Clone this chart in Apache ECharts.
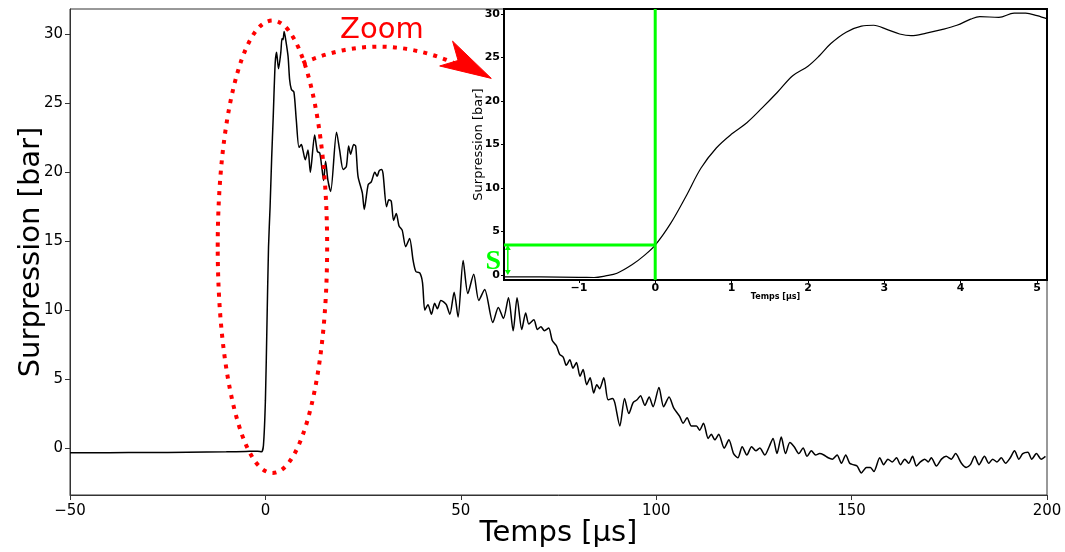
<!DOCTYPE html>
<html><head><meta charset="utf-8">
<script src="https://cdn.jsdelivr.net/npm/echarts@6/dist/echarts.min.js"></script>
<style>html,body{margin:0;padding:0;background:#fff}#c{width:1065px;height:552px}</style>
</head><body><div id="c"></div>
<script>
// ---- main signal (time in µs, pressure in bar)
const mainTime = [-50,-40,-30,-20,-10,-5,-2,-1,-0.5,0,0.4,0.8,1.2,1.6,2.0,2.5,2.86,3.35,3.95,4.25,4.5,4.8,5.2,5.8,6.2,6.65,7.3,7.9,8.6,9.2,9.6,10.2,10.9,11.5,12.6,13.3,13.9,14.5,14.9,15.4,16.0,16.7,18.2,19.0,19.9,20.7,21.3,21.8,22.6,23.1,23.7,24.8,25.3,26.3,27.1,28.0,28.6,29.1,29.7,30.1,31.0,31.6,32.2,32.8,33.5,34.2,35.0,35.9,36.9,37.8,38.5,39.5,40.2,40.8,41.6,42.5,43.3,44.0,44.9,45.6,46.3,47.2,48.3,49.3,50.6,51.8,53.3,54.6,56.1,58.2,59.6,60.9,62.2,63.4,64.4,65.6,66.6,67.4,68.7,69.6,70.5,71.4,72.5,73.4,74.5,75.3,76.2,77.0,77.9,78.7,79.6,80.5,81.3,82.2,83.1,84.0,84.8,85.5,86.6,87.7,88.8,89.4,90.7,91.9,93.0,94.1,95.1,96.0,97.1,98.2,99.2,100.7,101.9,103.3,104.5,106.0,106.9,107.9,109.0,110.3,111.1,112.1,113.3,114.1,115.0,116.0,117.4,118.6,119.8,120.9,122.0,123.2,124.4,125.5,126.5,127.8,128.9,129.9,130.9,132.0,133.1,134.2,135.3,136.5,137.6,138.6,139.7,140.8,141.8,142.9,144.0,145.1,146.3,147.4,148.5,149.5,150.4,151.4,152.5,153.8,154.8,155.7,157.2,158.2,159.3,160.4,161.5,162.5,163.6,164.6,165.6,166.6,167.6,168.7,169.6,170.4,171.7,173.0,174.2,175.5,176.6,178.1,179.3,180.4,181.5,182.6,184.0,185.1,186.1,187.2,188.3,189.4,190.6,191.7,192.8,193.8,195.1,196.1,197.3,198.5,199.6];
const mainPressure = [-0.34,-0.33,-0.32,-0.30,-0.27,-0.24,-0.22,-0.27,0.2,3.44,9.0,14.6,17.5,21.0,24.0,27.9,28.7,27.5,28.7,29.7,29.6,30.2,29.6,28.4,26.7,26.0,25.8,23.8,21.8,22.0,21.6,20.9,21.6,20.0,22.7,21.5,21.4,20.2,19.4,20.8,19.4,18.6,22.9,21.6,20.2,20.4,21.9,21.3,22.0,21.9,19.7,18.5,17.3,19.1,19.3,20.0,19.7,20.1,20.2,19.9,17.5,18.0,17.9,16.5,17.0,16.1,15.8,14.6,15.2,13.6,12.8,12.7,12.0,10.0,10.4,9.7,10.5,10.1,10.7,10.6,10.4,9.7,11.3,9.5,13.6,11.2,12.6,10.7,11.5,9.1,10.2,9.4,10.9,8.5,10.9,8.6,9.8,9.0,9.3,8.6,8.8,8.5,8.7,7.8,7.4,6.8,6.6,6.0,6.4,5.8,6.2,5.2,5.7,4.6,5.1,4.0,4.6,4.3,5.1,3.5,3.6,3.3,1.6,3.6,2.5,3.3,3.5,3.8,3.1,3.7,3.0,4.4,3.0,3.7,2.9,2.3,1.8,2.2,1.6,1.6,1.3,1.8,0.7,1.0,0.6,1.0,0.0,0.6,-0.4,-0.7,0.1,-0.5,0.1,-0.2,0.0,-0.5,0.1,0.7,-0.4,0.8,-0.4,0.4,0.1,-0.4,0.0,-0.6,-0.2,-0.5,-0.4,-0.5,-0.7,-0.8,-0.5,-1.1,-0.5,-1.1,-1.2,-1.3,-1.8,-1.4,-1.4,-1.7,-0.7,-1.2,-0.8,-1.0,-0.7,-1.2,-0.8,-1.1,-0.6,-1.3,-1.0,-0.8,-1.0,-0.7,-1.3,-0.8,-0.6,-0.8,-0.4,-1.1,-1.4,-1.2,-0.6,-1.2,-0.6,-1.1,-0.8,-1.0,-0.7,-1.1,-0.7,-0.2,-0.8,-0.4,-0.3,-0.8,-0.4,-0.8,-0.6];

// ---- zoomed signal (inset)
const zoomTime = [-1.98,-1.5,-1.0,-0.8,-0.65,-0.5,-0.3,-0.15,0,0.2,0.4,0.6,0.8,1.0,1.2,1.4,1.6,1.8,2.0,2.15,2.3,2.5,2.7,2.86,3.04,3.2,3.35,3.55,3.75,3.95,4.13,4.25,4.5,4.7,4.85,5.0,5.14];
const zoomPressure = [-0.2,-0.22,-0.27,-0.28,-0.1,0.2,1.2,2.2,3.44,5.9,9.0,12.3,14.6,16.2,17.5,19.2,21.0,22.9,24.0,25.2,26.6,27.9,28.6,28.7,28.2,27.7,27.5,27.8,28.2,28.7,29.4,29.7,29.6,30.1,30.1,29.8,29.4];

// ---- tick labels
const mainXTicks = [-50,0,50,100,150,200];
const mainYTicks = [0,5,10,15,20,25,30];
const zoomXTicks = [-1,0,1,2,3,4,5];
const zoomYTicks = [0,5,10,15,20,25,30];

// ---- annotations (data coordinates)
const ellipse = [1.8, 14.6, 14.0, 16.4];          // cx, cy, rx, ry (main axes)
const arcPts = [[9.5,27.9],[29.0,30.3],[48.4,27.9]]; // start, control, end
const arrowHead = [[57.8,26.8],[47.9,29.5],[49.3,28.1],[44.6,27.7]];
const zoomLabelPos = [29.8, 30.3];
const sLevel = 3.44;       // bar at t = 0
const sArrowX = -1.93;
const sLabelPos = [-2.12, 1.5];

const minus = v => String(v).replace('-', '\u2212');
const FONT = 'DejaVu Sans';

const chart = echarts.init(document.getElementById('c'), null, {renderer:'canvas'});
chart.setOption({
  backgroundColor:'#fff',
  animation:false,
  textStyle:{fontFamily:FONT},
  grid:[
    {left:70, top:9, width:977, height:486, show:true, borderColor:'#333', borderWidth:1, backgroundColor:'transparent', containLabel:false, outerBoundsMode:'none'},
    {left:504, top:9, width:543, height:271, show:true, borderColor:'#000', borderWidth:2, backgroundColor:'#fff', containLabel:false, outerBoundsMode:'none', z:5}
  ],
  xAxis:[
    {type:'value', gridIndex:0, min:-50, max:200, interval:50,
     axisLine:{show:true, onZero:false, lineStyle:{color:'#333', width:1}},
     axisTick:{show:true, length:5, lineStyle:{color:'#333'}, customValues:mainXTicks},
     axisLabel:{fontSize:15, color:'#000', margin:9, fontFamily:FONT, formatter:minus, customValues:mainXTicks},
     splitLine:{show:false},
     name:'Temps [µs]', nameLocation:'middle', nameGap:24, nameMoveOverlap:false,
     nameTextStyle:{fontSize:29, color:'#000', fontFamily:FONT}},
    {type:'value', gridIndex:1, min:-1.98, max:5.13, z:6,
     axisLine:{show:true, onZero:false, lineStyle:{color:'#000', width:2}},
     axisTick:{show:true, length:3, lineStyle:{color:'#000'}, customValues:zoomXTicks},
     axisLabel:{fontSize:11, fontWeight:'bold', color:'#000', margin:3, fontFamily:FONT, formatter:minus, customValues:zoomXTicks},
     splitLine:{show:false},
     name:'Temps [µs]', nameLocation:'middle', nameGap:13, nameMoveOverlap:false,
     nameTextStyle:{fontSize:8, fontWeight:'bold', color:'#000', fontFamily:FONT}}
  ],
  yAxis:[
    {type:'value', gridIndex:0, min:-3.4, max:31.83,
     axisLine:{show:true, onZero:false, lineStyle:{color:'#333', width:1}},
     axisTick:{show:true, length:5, lineStyle:{color:'#333'}, customValues:mainYTicks},
     axisLabel:{fontSize:15, color:'#000', margin:7, fontFamily:FONT, formatter:minus, customValues:mainYTicks},
     splitLine:{show:false},
     name:'Surpression [bar]', nameLocation:'middle', nameGap:24, nameMoveOverlap:false,
     nameTextStyle:{fontSize:29, color:'#000', fontFamily:FONT}},
    {type:'value', gridIndex:1, min:-0.57, max:30.57, z:6,
     axisLine:{show:true, onZero:false, lineStyle:{color:'#000', width:2}},
     axisTick:{show:true, length:3, lineStyle:{color:'#000'}, customValues:zoomYTicks},
     axisLabel:{fontSize:11, fontWeight:'bold', color:'#000', margin:4, fontFamily:FONT, customValues:zoomYTicks},
     splitLine:{show:false},
     name:'Surpression [bar]', nameLocation:'middle', nameGap:19, nameMoveOverlap:false,
     nameTextStyle:{fontSize:13, color:'#000', fontFamily:FONT}}
  ],
  series:[
    {type:'line', xAxisIndex:0, yAxisIndex:0, showSymbol:false, smooth:0.25,
     lineStyle:{color:'#000', width:1.5}, data:mainTime.map((t,i)=>[t, mainPressure[i]]), z:2},
    {type:'line', xAxisIndex:1, yAxisIndex:1, showSymbol:false, smooth:0.35,
     lineStyle:{color:'#000', width:1.2}, data:zoomTime.map((t,i)=>[t, zoomPressure[i]]), z:7},
    {type:'line', xAxisIndex:1, yAxisIndex:1, showSymbol:false, z:8,
     lineStyle:{color:'#00ff00', width:3}, data:[[0,-0.57],[0,30.57]]},
    {type:'line', xAxisIndex:1, yAxisIndex:1, showSymbol:false, z:8,
     lineStyle:{color:'#00ff00', width:3}, data:[[-1.98,sLevel],[0,sLevel]]},
    {type:'custom', xAxisIndex:0, yAxisIndex:0, clip:false, z:9, data:[[0,0]],
     renderItem:function(params, api){
       const c = api.coord([ellipse[0], ellipse[1]]);
       const e = api.coord([ellipse[0]+ellipse[2], ellipse[1]+ellipse[3]]);
       const p0 = api.coord(arcPts[0]), p1 = api.coord(arcPts[1]), p2 = api.coord(arcPts[2]);
       const dot = {stroke:'#ff0000', fill:null, lineWidth:4, lineDash:[4,6.3], lineCap:'butt'};
       const zp = api.coord(zoomLabelPos);
       return {type:'group', children:[
         {type:'ellipse', shape:{cx:c[0], cy:c[1], rx:Math.abs(e[0]-c[0]), ry:Math.abs(c[1]-e[1])}, style:dot},
         {type:'bezierCurve', shape:{x1:p0[0], y1:p0[1], cpx1:p1[0], cpy1:p1[1], x2:p2[0], y2:p2[1]}, style:dot},
         {type:'polygon', shape:{points:arrowHead.map(p=>api.coord(p))}, style:{fill:'#ff0000', stroke:'#ff0000', lineWidth:1}},
         {type:'text', x:zp[0], y:zp[1], style:{text:'Zoom', fill:'#ff0000', font:'29px "DejaVu Sans"', align:'center', verticalAlign:'middle'}}
       ]};
     }},
    {type:'custom', xAxisIndex:1, yAxisIndex:1, clip:false, z:9, data:[[0,0]],
     renderItem:function(params, api){
       const a = api.coord([sArrowX, 0]);
       const b = api.coord([sArrowX, sLevel]);
       const s = api.coord(sLabelPos);
       const g = '#00ff00';
       return {type:'group', children:[
         {type:'line', shape:{x1:a[0], y1:a[1]-3, x2:b[0], y2:b[1]+3}, style:{stroke:g, lineWidth:1.5}},
         {type:'polygon', shape:{points:[[b[0],b[1]],[b[0]-3,b[1]+5],[b[0]+3,b[1]+5]]}, style:{fill:g}},
         {type:'polygon', shape:{points:[[a[0],a[1]],[a[0]-3,a[1]-5],[a[0]+3,a[1]-5]]}, style:{fill:g}},
         {type:'text', x:s[0], y:s[1], style:{text:'S', fill:g, font:'bold 28px "Liberation Serif"', align:'center', verticalAlign:'middle'}}
       ]};
     }}
  ]
});
</script></body></html>
